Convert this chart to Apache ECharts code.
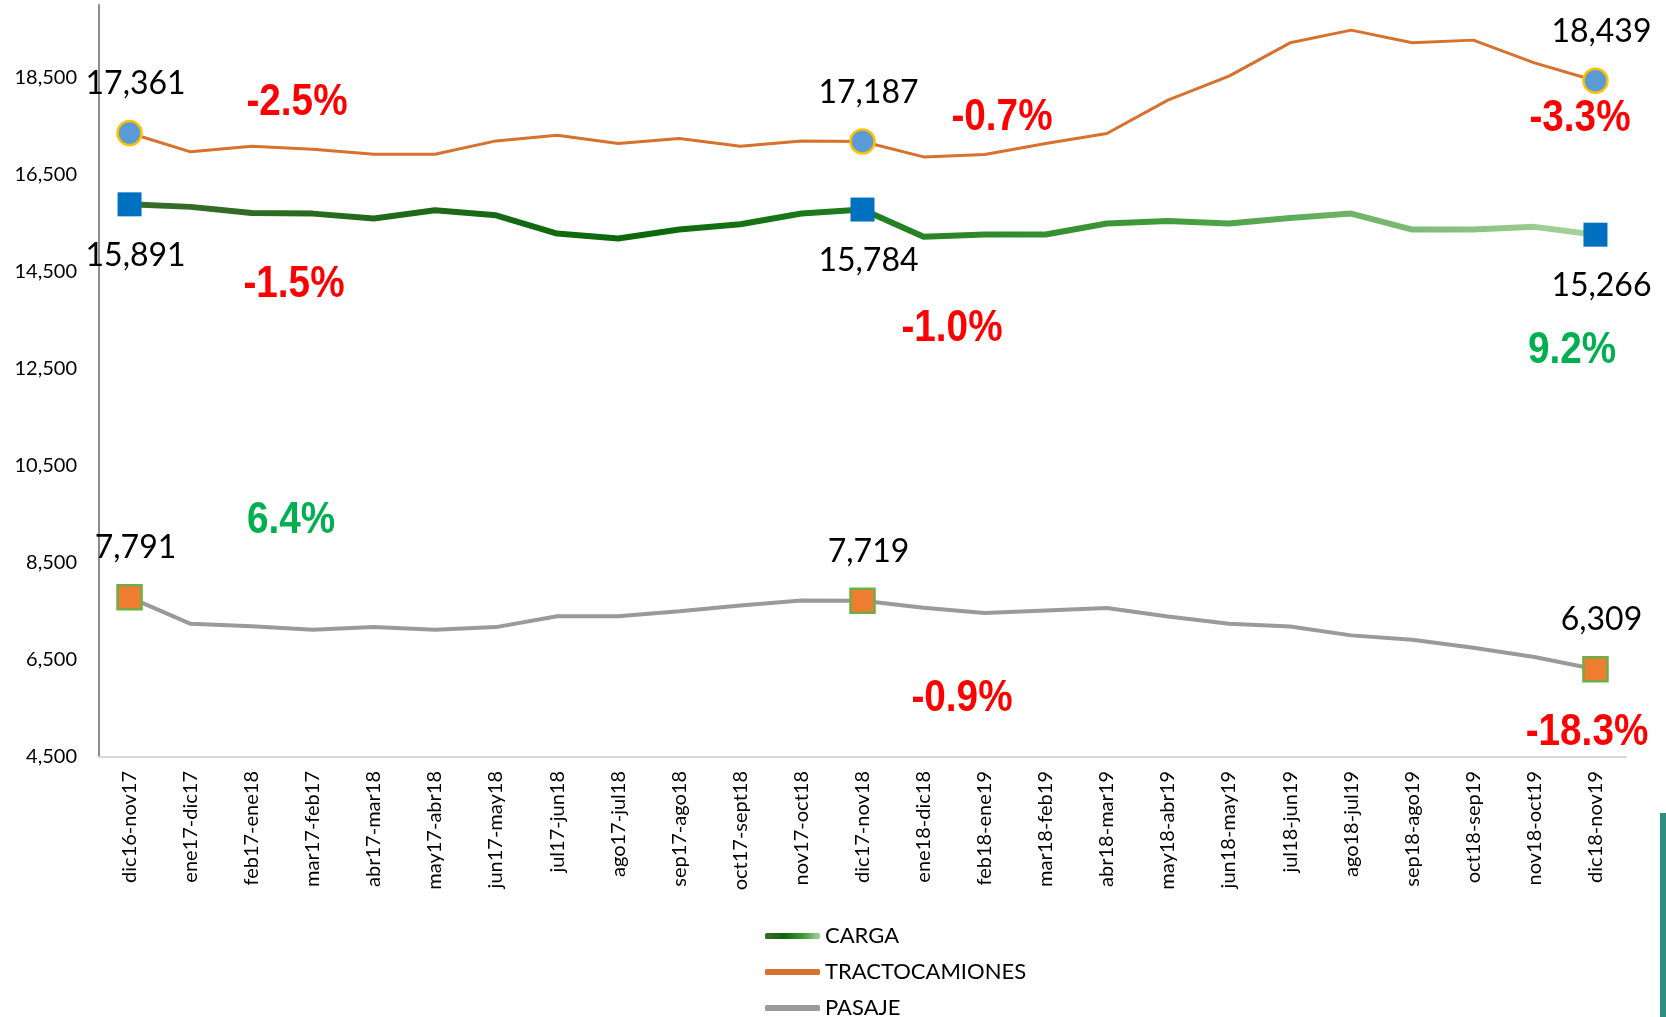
<!DOCTYPE html>
<html>
<head>
<meta charset="utf-8">
<script src="https://cdn.jsdelivr.net/npm/echarts@6/dist/echarts.min.js"></script>
<style>
  html, body { margin: 0; padding: 0; background: #fff; }
  #chart { width: 1666px; height: 1017px; }
</style>
</head>
<body>
<div id="chart"></div>
<script>
const categories = [
  'dic16-nov17', 'ene17-dic17', 'feb17-ene18', 'mar17-feb17', 'abr17-mar18',
  'may17-abr18', 'jun17-may18', 'jul17-jun18', 'ago17-jul18', 'sep17-ago18',
  'oct17-sept18', 'nov17-oct18', 'dic17-nov18', 'ene18-dic18', 'feb18-ene19',
  'mar18-feb19', 'abr18-mar19', 'may18-abr19', 'jun18-may19', 'jul18-jun19',
  'ago18-jul19', 'sep18-ago19', 'oct18-sep19', 'nov18-oct19', 'dic18-nov19'
];
const carga = [15891, 15839, 15714, 15700, 15598, 15771, 15666, 15289, 15186, 15372,
  15482, 15701, 15784, 15221, 15269, 15269, 15495, 15550, 15495, 15611,
  15701, 15372, 15372, 15427, 15266];
const tracto = [17361, 16974, 17090, 17028, 16925, 16925, 17199, 17316, 17145, 17248,
  17090, 17199, 17187, 16869, 16917, 17145, 17351, 18039, 18534, 19220,
  19482, 19220, 19276, 18808, 18439];
const pasaje = [7791, 7245, 7195, 7123, 7177, 7123, 7177, 7403, 7403, 7506,
  7624, 7727, 7719, 7576, 7467, 7521, 7570, 7397, 7245, 7191,
  7007, 6917, 6750, 6560, 6309];
const markIdx = [0, 12, 24];
const pctTexts = ['-2.5%', '-1.5%', '6.4%', '-0.7%', '-1.0%', '-0.9%', '-3.3%', '9.2%', '-18.3%'];

// where the variation notes sit on the page, and their colour
const pctPlaces = [
  [297, 103, '#ff0000'], [294, 285, '#ff0000'], [291, 521, '#00b050'],
  [1002, 118, '#ff0000'], [952, 329, '#ff0000'], [962, 699, '#ff0000'],
  [1580, 119, '#ff0000'], [1572, 351, '#00b050'], [1587, 733, '#ff0000']
];

const fmt = v => Number(v).toLocaleString('en-US');

const greenGrad = new echarts.graphic.LinearGradient(0, 0, 1, 0, [
  { offset: 0, color: '#3a6b2c' },
  { offset: 0.35, color: '#0a680a' },
  { offset: 0.7, color: '#3f9a3a' },
  { offset: 1, color: '#a9d49e' }
]);

function withMarks(values, mark, labelPos) {
  return values.map((v, i) => {
    if (markIdx.indexOf(i) < 0) return v;
    return {
      value: v,
      symbol: mark.symbol,
      symbolSize: 24,
      itemStyle: mark.itemStyle,
      label: {
        show: true,
        position: labelPos,
        distance: labelPos === 'top' ? 20 : 23,
        offset: [6, 0],
        formatter: p => fmt(p.value),
        color: '#000',
        fontSize: 32,
        fontFamily: 'Lato, "Noto Sans", sans-serif'
      }
    };
  });
}

const myChart = echarts.init(document.getElementById('chart'));
const options = {
  animation: false,
  grid: { left: 99, right: 40, top: 5, bottom: 260 },
  legend: {
    orient: 'vertical',
    left: 765,
    top: 925,
    height: 150,
    padding: 0,
    icon: 'roundRect',
    itemWidth: 55,
    itemHeight: 6,
    itemGap: 14,
    textStyle: { color: '#000', fontSize: 22, lineHeight: 21, fontFamily: 'Lato, "Noto Sans", sans-serif' },
    data: [
      { name: 'CARGA', itemStyle: { color: greenGrad } },
      { name: 'TRACTOCAMIONES' },
      { name: 'PASAJE' }
    ]
  },
  xAxis: {
    type: 'category',
    data: categories,
    boundaryGap: true,
    axisLine: { lineStyle: { color: '#d9d9d9', width: 2 } },
    axisTick: { show: false },
    axisLabel: {
      interval: 0,
      rotate: 90,
      margin: 14,
      color: '#000',
      fontSize: 20,
      fontFamily: 'Lato, "Noto Sans", sans-serif'
    }
  },
  yAxis: {
    type: 'value',
    min: 4500,
    max: 20000,
    interval: 2000,
    splitLine: { show: false },
    axisLine: { show: true, lineStyle: { color: '#8c8c8c', width: 2 } },
    axisTick: { show: false },
    axisLabel: {
      showMaxLabel: false,
      margin: 22,
      color: '#000',
      fontSize: 20,
      fontFamily: 'Lato, "Noto Sans", sans-serif',
      formatter: fmt
    }
  },
  series: [
    {
      name: 'CARGA',
      type: 'line',
      symbol: 'none',
      color: '#0a680a',
      lineStyle: { width: 6, color: greenGrad },
      z: 3,
      data: withMarks(carga, { symbol: 'rect', itemStyle: { color: '#0070c0' } }, 'bottom')
    },
    {
      name: 'TRACTOCAMIONES',
      type: 'line',
      symbol: 'none',
      color: '#d6722e',
      lineStyle: { width: 3, color: '#d6722e' },
      z: 3,
      data: withMarks(tracto, {
        symbol: 'circle',
        itemStyle: { color: '#5b9bd5', borderColor: '#ffc000', borderWidth: 2.5 }
      }, 'top')
    },
    {
      name: 'PASAJE',
      type: 'line',
      symbol: 'none',
      color: '#9a9a9a',
      lineStyle: { width: 4, color: '#9a9a9a' },
      z: 3,
      data: withMarks(pasaje, {
        symbol: 'rect',
        itemStyle: { color: '#ed7d31', borderColor: '#70ad47', borderWidth: 2.5 }
      }, 'top')
    }
  ],
  graphic: pctTexts.map((t, i) => ({
    type: 'text',
    x: pctPlaces[i][0],
    y: pctPlaces[i][1],
    scaleX: 0.86,
    z: 10,
    style: {
      text: t,
      fill: pctPlaces[i][2],
      fontSize: 45,
      fontWeight: 'bold',
      fontFamily: '"Liberation Sans", Arial, sans-serif',
      align: 'center',
      verticalAlign: 'middle'
    }
  })).concat([{
    type: 'rect',
    shape: { x: 1660, y: 813, width: 6, height: 204 },
    style: { fill: '#2f8f7e' }
  }])
};
myChart.setOption(options);
</script>
</body>
</html>
